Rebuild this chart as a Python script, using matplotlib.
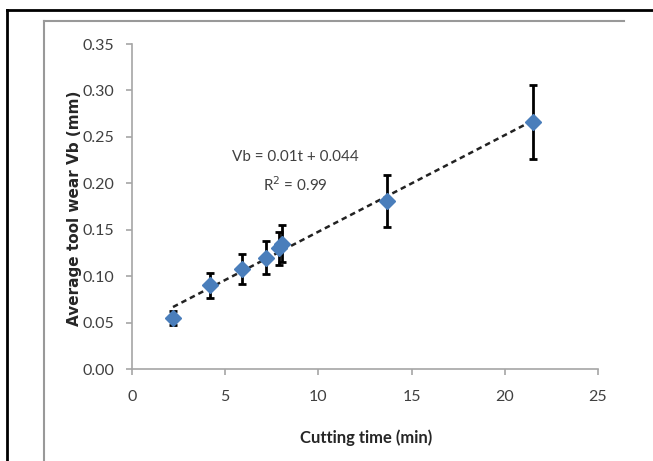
import numpy as np
import matplotlib
matplotlib.use("Agg")
import matplotlib.pyplot as plt
from matplotlib.lines import Line2D

# Data
cutting_time = [2.2, 4.16, 5.9, 7.18, 7.87, 8.07, 13.7, 21.5]
tool_wear = [0.055, 0.090, 0.108, 0.120, 0.130, 0.135, 0.181, 0.266]
wear_err = [0.008, 0.013, 0.016, 0.018, 0.018, 0.020, 0.028, 0.040]
x_ticks = [0, 5, 10, 15, 20, 25]
y_ticks = [0.00, 0.05, 0.10, 0.15, 0.20, 0.25, 0.30, 0.35]

plt.rcParams['font.family'] = ['Lato', 'DejaVu Sans']

W, H = 653, 461
fig = plt.figure(figsize=(W / 100, H / 100), dpi=100)

def fx(px):
    return px / W
def fy(py):
    return 1 - py / H

fig.add_artist(Line2D([fx(7), fx(653)], [fy(10), fy(10)], color='black', lw=2))
fig.add_artist(Line2D([fx(7), fx(7)], [fy(10), fy(461)], color='black', lw=2))
fig.add_artist(Line2D([fx(44), fx(624)], [fy(21), fy(21)], color='#999999', lw=1.5))
fig.add_artist(Line2D([fx(44), fx(44)], [fy(21), fy(461)], color='#999999', lw=1.5))

ax = fig.add_axes([132 / W, 1 - 369 / H, (598 - 132) / W, (369 - 44) / H])
ax.set_xlim(0, 25)
ax.set_ylim(0, 0.35)

# trendline (least-squares fit of the data)
coef = np.polyfit(cutting_time, tool_wear, 1)
tx = np.array([min(cutting_time), max(cutting_time)])
ax.plot(tx, np.polyval(coef, tx), ls=(0, (2.2, 1.6)), color='#222222', lw=1.8, zorder=2)

ax.errorbar(cutting_time, tool_wear, yerr=wear_err, fmt='none', ecolor='black',
            elinewidth=2, capsize=3, capthick=2, zorder=3)
ax.plot(cutting_time, tool_wear, ls='none', marker='D', markersize=8.5,
        color='#4a7ebb', markeredgecolor='#4a7ebb', zorder=4)

ax.text(8.74, 0.228, "Vb = 0.01t + 0.044", ha='center', va='center',
        fontsize=11, color='#404040')
ax.text(8.74, 0.198, "R$^2$ = 0.99", ha='center', va='center',
        fontsize=11, color='#404040')

ax.set_xticks(x_ticks)
ax.set_yticks(y_ticks)
ax.set_xticklabels([str(v) for v in x_ticks])
ax.set_yticklabels([f"{v:.2f}" for v in y_ticks])
for s in ['top', 'right']:
    ax.spines[s].set_visible(False)
for s in ['left', 'bottom']:
    ax.spines[s].set_color('#a6a6a6')
    ax.spines[s].set_linewidth(1.2)
ax.tick_params(axis='both', direction='out', length=4, width=1.2, color='#a6a6a6',
               labelsize=11.5, labelcolor='#404040')
ax.tick_params(axis='x', pad=11)
ax.tick_params(axis='y', pad=9)

ax.set_xlabel("Cutting time (min)", fontsize=12, fontweight='bold', color='#262626')
ax.xaxis.set_label_coords((366 - 132) / 466, (369 - 429) / 325)
ax.set_ylabel("Average tool wear Vb (mm)", fontsize=11, fontweight='bold',
              family=['DejaVu Sans'], color='#262626', va='center')
ax.yaxis.set_label_coords((75 - 132) / 466, 0.5 + (206.5 - 208) / 325)

fig.savefig("out.png", dpi=100)
